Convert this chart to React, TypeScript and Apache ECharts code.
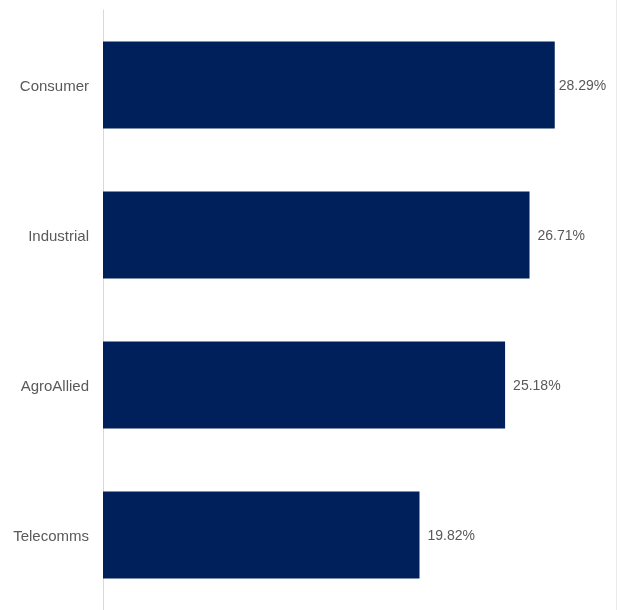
import React, { useEffect, useRef } from "react";
import * as echarts from "echarts";

const categories = ["Consumer", "Industrial", "AgroAllied", "Telecomms"];
const values = [28.29, 26.71, 25.18, 19.82];

export default function App() {
  const ref = useRef<HTMLDivElement>(null);
  useEffect(() => {
    if (!ref.current) return;
    const chart = echarts.init(ref.current, undefined, { renderer: "svg" });
    chart.setOption({
      animation: false,
      grid: { left: 103, top: 10, width: 511, height: 600, containLabel: false },
      xAxis: {
        type: "value",
        min: 0,
        max: 32,
        show: false,
      },
      yAxis: {
        type: "category",
        data: categories,
        inverse: true,
        axisLine: { show: true, lineStyle: { color: "#d9d9d9", width: 1 } },
        axisTick: { show: false },
        axisLabel: {
          color: "#595959",
          fontSize: 15,
          fontFamily: "Liberation Sans, Arial, sans-serif",
          margin: 14,
        },
      },
      series: [
        {
          type: "bar",
          data: values.map((v, i) =>
            i === 0 ? { value: v, label: { distance: 4 } } : { value: v }
          ),
          barWidth: "58%",
          itemStyle: { color: "#00205b" },
          label: {
            show: true,
            position: "right",
            distance: 8,
            formatter: (p: any) => p.value.toFixed(2) + "%",
            color: "#595959",
            fontSize: 14,
            fontFamily: "Liberation Sans, Arial, sans-serif",
          },
        },
      ],
      graphic: [
        {
          type: "line",
          shape: { x1: 616.5, y1: 0, x2: 616.5, y2: 610 },
          style: { stroke: "#ebebeb", lineWidth: 1 },
          silent: true,
        },
      ],
    });
    return () => chart.dispose();
  }, []);
  return (
    <div
      ref={ref}
      style={{ position: "fixed", left: 0, top: 0, width: 621, height: 610 }}
    />
  );
}
